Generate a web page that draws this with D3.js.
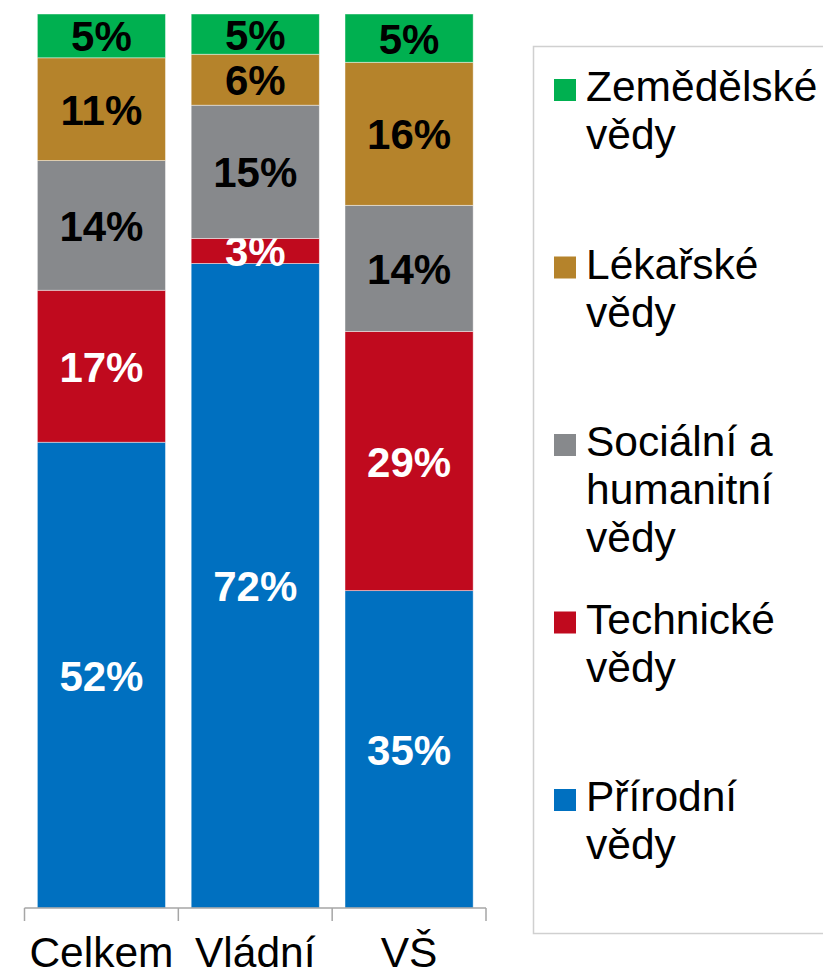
<!DOCTYPE html>
<html>

<head>
  <meta charset="UTF-8" />
  <title>Struktura podle oborů</title>
  <style>
    body {
      margin: 0;
      background: #fff;
      font-family: Arial, "Liberation Sans", sans-serif;
    }
  </style>
  <script src="https://d3js.org/d3.v7.min.js"></script>
</head>

<body>
  <script>
    /* categories (x axis) */
    let sectors = ["Celkem", "Vládní", "VŠ"];

    /* series, bottom to top */
    let fields = ["Přírodní vědy", "Technické vědy", "Sociální a humanitní vědy", "Lékařské vědy", "Zemědělské vědy"];
    let fieldColors = ["#0070c0", "#c00a1e", "#87898c", "#b5832b", "#00b050"];
    let labelColors = ["#fff", "#fff", "#000", "#000", "#000"];

    /* shares in % per sector, same order as fields */
    let celkemValues = [52.1, 17.0, 14.5, 11.5, 4.9];
    let vladniValues = [72.1, 2.8, 14.9, 5.7, 4.5];
    let vsValues = [35.5, 29.0, 14.1, 16.0, 5.4];

    /* printed labels */
    let celkemLabels = ["52%", "17%", "14%", "11%", "5%"];
    let vladniLabels = ["72%", "3%", "15%", "6%", "5%"];
    let vsLabels = ["35%", "29%", "14%", "16%", "5%"];

    /* legend text, top to bottom, split in lines */
    let legendLines = [
      ["Zemědělské", "vědy"],
      ["Lékařské", "vědy"],
      ["Sociální a", "humanitní", "vědy"],
      ["Technické", "vědy"],
      ["Přírodní", "vědy"]
    ];

    let width = 823;
    let height = 976;

    let rows = sectors.map((s, i) => {
      let vals = [celkemValues, vladniValues, vsValues][i];
      let row = { sector: s };
      fields.forEach((f, j) => row[f] = vals[j]);
      return row;
    });
    let labelsBySector = [celkemLabels, vladniLabels, vsLabels];

    let svg = d3.select("body")
      .append("svg")
      .attr("width", width)
      .attr("height", height);

    let xScale = d3.scaleBand()
      .domain(sectors)
      .range([24.5, 486])
      .paddingInner(0.167)
      .paddingOuter(0.0835);

    let yScale = d3.scaleLinear()
      .domain([0, 100])
      .range([908, 14]);

    let stacked = d3.stack().keys(fields)(rows);

    /* bars */
    let layers = svg.append("g")
      .selectAll("g")
      .data(stacked)
      .enter()
      .append("g")
      .attr("fill", (d, i) => fieldColors[i]);

    layers.selectAll("rect")
      .data(d => d)
      .enter()
      .append("rect")
      .attr("x", d => xScale(d.data.sector))
      .attr("y", d => yScale(d[1]))
      .attr("width", xScale.bandwidth())
      .attr("height", d => yScale(d[0]) - yScale(d[1]))
      .attr("stroke", "rgba(255,255,255,0.55)")
      .attr("stroke-width", 0.8);

    /* value labels */
    layers.each(function (layer, li) {
      d3.select(this).selectAll("text")
        .data(layer)
        .enter()
        .append("text")
        .attr("x", d => xScale(d.data.sector) + xScale.bandwidth() / 2)
        .attr("y", d => (yScale(d[0]) + yScale(d[1])) / 2)
        .attr("dy", "0.37em")
        .attr("text-anchor", "middle")
        .attr("font-size", "42px")
        .attr("font-weight", "bold")
        .attr("fill", labelColors[li])
        .text((d, i) => labelsBySector[i][li]);
    });

    /* x axis: line, boundary ticks, labels */
    let step = xScale.step();
    let axisY = yScale(0);
    let axis = svg.append("g")
      .attr("id", "x-axis")
      .attr("transform", `translate(0, ${axisY})`)
      .call(d3.axisBottom(xScale).tickSize(0).tickPadding(0));
    axis.select(".domain").remove();
    axis.append("line")
      .attr("x1", xScale.range()[0])
      .attr("x2", xScale.range()[1])
      .attr("stroke", "#a6a6a6")
      .attr("stroke-width", 1.5);
    axis.selectAll(".bound")
      .data(d3.range(sectors.length + 1))
      .enter()
      .append("line")
      .attr("class", "bound")
      .attr("x1", i => xScale.range()[0] + i * step)
      .attr("x2", i => xScale.range()[0] + i * step)
      .attr("y1", 0)
      .attr("y2", 13)
      .attr("stroke", "#a6a6a6")
      .attr("stroke-width", 1.5);
    axis.selectAll(".tick text")
      .attr("y", 59)
      .attr("dy", 0)
      .attr("font-size", "42.5px")
      .attr("font-family", "Arial, 'Liberation Sans', sans-serif")
      .attr("fill", "#000");

    /* legend */
    svg.append("rect")
      .attr("x", 533.5)
      .attr("y", 46.5)
      .attr("width", 320)
      .attr("height", 887)
      .attr("fill", "none")
      .attr("stroke", "#d0d0d0")
      .attr("stroke-width", 1.5);

    let legendColors = fieldColors.slice().reverse();
    let legend = svg.append("g")
      .attr("id", "legend")
      .selectAll("g")
      .data(legendLines)
      .enter()
      .append("g")
      .attr("transform", (d, i) => `translate(554, ${101 + i * 177.5})`);

    legend.append("rect")
      .attr("x", 0)
      .attr("y", -22)
      .attr("width", 22)
      .attr("height", 22)
      .attr("fill", (d, i) => legendColors[i]);

    legend.append("text")
      .attr("font-size", "42.5px")
      .attr("fill", "#000")
      .selectAll("tspan")
      .data(d => d)
      .enter()
      .append("tspan")
      .attr("x", 32)
      .attr("y", (d, i) => i * 48)
      .text(d => d);
  </script>
</body>

</html>
